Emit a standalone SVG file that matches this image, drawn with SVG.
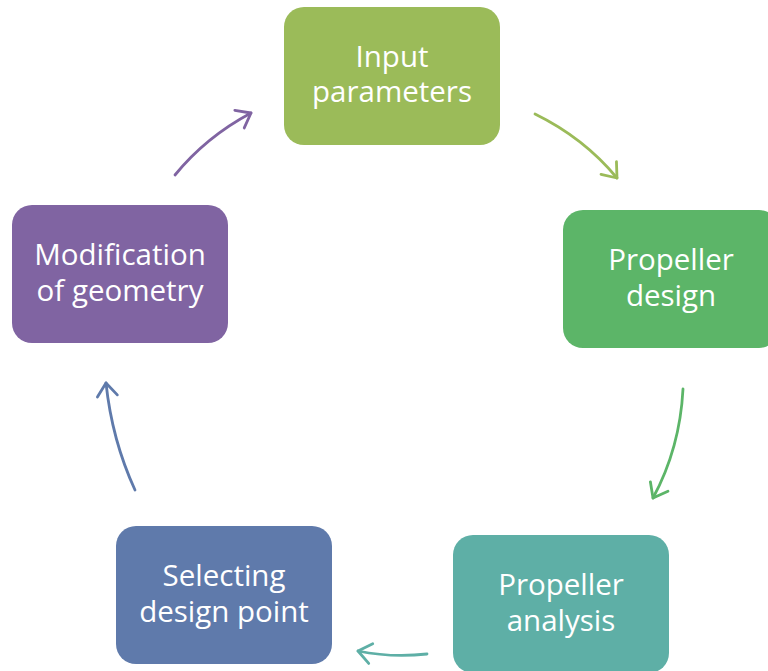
<svg xmlns="http://www.w3.org/2000/svg" width="768" height="671" viewBox="0 0 768 671">
  <style>
    .box text { font-family: "Open Sans", "Liberation Sans", sans-serif; font-size: 29.5px; fill: #ffffff; text-anchor: middle; }
    .conn path { fill: none; stroke-width: 2.8; stroke-linecap: round; }
  </style>
  <defs>
    <marker id="ah1" markerUnits="userSpaceOnUse" markerWidth="30" markerHeight="30" refX="0" refY="0" viewBox="-15 -15 30 30" orient="auto" overflow="visible">
      <path d="M-13,-10 L0,0 L-13,10" fill="none" stroke="#9bbb59" stroke-width="2.8" stroke-linecap="round" stroke-linejoin="round"/>
    </marker>
    <marker id="ah2" markerUnits="userSpaceOnUse" markerWidth="30" markerHeight="30" refX="0" refY="0" viewBox="-15 -15 30 30" orient="auto" overflow="visible">
      <path d="M-13,-10 L0,0 L-13,10" fill="none" stroke="#5cb568" stroke-width="2.8" stroke-linecap="round" stroke-linejoin="round"/>
    </marker>
    <marker id="ah3" markerUnits="userSpaceOnUse" markerWidth="30" markerHeight="30" refX="0" refY="0" viewBox="-15 -15 30 30" orient="auto" overflow="visible">
      <path d="M-13,-10 L0,0 L-13,10" fill="none" stroke="#5eafa6" stroke-width="2.8" stroke-linecap="round" stroke-linejoin="round"/>
    </marker>
    <marker id="ah4" markerUnits="userSpaceOnUse" markerWidth="30" markerHeight="30" refX="0" refY="0" viewBox="-15 -15 30 30" orient="auto" overflow="visible">
      <path d="M-13,-10 L0,0 L-13,10" fill="none" stroke="#5f7aab" stroke-width="2.8" stroke-linecap="round" stroke-linejoin="round"/>
    </marker>
    <marker id="ah5" markerUnits="userSpaceOnUse" markerWidth="30" markerHeight="30" refX="0" refY="0" viewBox="-15 -15 30 30" orient="auto" overflow="visible">
      <path d="M-13,-10 L0,0 L-13,10" fill="none" stroke="#8064a2" stroke-width="2.8" stroke-linecap="round" stroke-linejoin="round"/>
    </marker>
  </defs>
  <rect width="768" height="671" fill="#ffffff"/>

  <g id="connectors" class="conn">
    <path d="M535,114 Q584,138 617,178" stroke="#9bbb59" marker-end="url(#ah1)"/>
    <path d="M683,389 Q680,448 653,498" stroke="#5cb568" marker-end="url(#ah2)"/>
    <path d="M427,654 Q392,658 358,651" stroke="#5eafa6" marker-end="url(#ah3)"/>
    <path d="M135,490 Q112,440 106,383" stroke="#5f7aab" marker-end="url(#ah4)"/>
    <path d="M175,175 Q206,137 251,113" stroke="#8064a2" marker-end="url(#ah5)"/>
  </g>

  <g id="input-parameters" class="box">
    <rect x="284" y="7" width="216" height="138" rx="20" fill="#9bbb59"/>
    <text x="392" y="67">Input</text>
    <text x="392" y="102">parameters</text>
  </g>

  <g id="propeller-design" class="box">
    <rect x="563" y="210" width="216" height="138" rx="20" fill="#5cb568"/>
    <text x="671" y="270">Propeller</text>
    <text x="671" y="306">design</text>
  </g>

  <g id="propeller-analysis" class="box">
    <rect x="453" y="535" width="216" height="138" rx="20" fill="#5eafa6"/>
    <text x="561" y="595">Propeller</text>
    <text x="561" y="631">analysis</text>
  </g>

  <g id="selecting-design-point" class="box">
    <rect x="116" y="526" width="216" height="138" rx="20" fill="#5f7aab"/>
    <text x="224" y="586">Selecting</text>
    <text x="224" y="622">design point</text>
  </g>

  <g id="modification-of-geometry" class="box">
    <rect x="12" y="205" width="216" height="138" rx="20" fill="#8064a2"/>
    <text x="120" y="265">Modification</text>
    <text x="120" y="301">of geometry</text>
  </g>
</svg>
